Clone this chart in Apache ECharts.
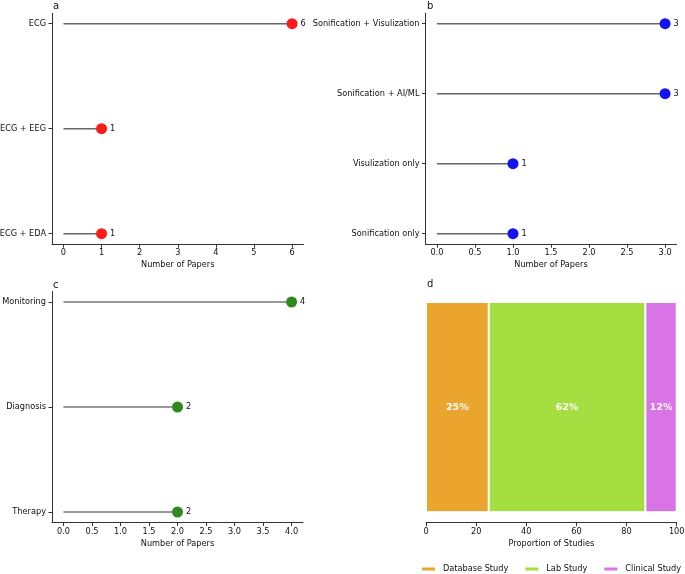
<!DOCTYPE html>
<html>
<head>
<meta charset="utf-8">
<script src="https://cdn.jsdelivr.net/npm/echarts@6/dist/echarts.min.js"></script>
<style>
  html, body { margin: 0; padding: 0; background: #fff; }
  #main { width: 685px; height: 574px; }
</style>
</head>
<body>
<div id="main"></div>
<script>
// panel a: modality
const aCats = ['ECG', 'ECG + EEG', 'ECG + EDA']
const aVals = [6, 1, 1]
const aTicks = [0, 1, 2, 3, 4, 5, 6]
// panel b: approach
const bCats = ['Sonification + Visulization', 'Sonification + AI/ML', 'Visulization only', 'Sonification only']
const bVals = [3, 3, 1, 1]
const bTicks = [0, 0.5, 1, 1.5, 2, 2.5, 3]
// panel c: application
const cCats = ['Monitoring', 'Diagnosis', 'Therapy']
const cVals = [4, 2, 2]
const cTicks = [0, 0.5, 1, 1.5, 2, 2.5, 3, 3.5, 4]
// panel d: study type
const dNames = ['Database Study', 'Lab Study', 'Clinical Study']
const dVals = [25, 62.5, 12.5]
const dLabels = ['25%', '62%', '12%']

const FONT = 'DejaVu Sans'
const FS = 8.2
const TXT = '#111'
const AX = '#333'

const chart = echarts.init(document.getElementById('main'))

function lolliAxes(idx, cats, ticks, dec) {
  const n = cats.length
  const maxT = ticks[ticks.length - 1]
  const pad = maxT * 0.05
  return {
    x: {
      type: 'value', gridIndex: idx, min: -pad, max: maxT + pad,
      name: 'Number of Papers', nameLocation: 'middle', nameGap: 17,
      nameTextStyle: { fontFamily: FONT, fontSize: FS, color: TXT },
      splitLine: { show: false },
      axisLine: { show: true, onZero: false, lineStyle: { color: AX, width: 1 } },
      axisTick: { show: true, length: 3.5, customValues: ticks, lineStyle: { color: AX } },
      axisLabel: {
        customValues: ticks, margin: 5, fontFamily: FONT, fontSize: FS, color: TXT,
        formatter: v => dec ? Number(v).toFixed(1) : String(Math.round(v))
      }
    },
    y: {
      type: 'value', gridIndex: idx, inverse: true,
      min: -(n - 1) * 0.05, max: (n - 1) * 1.05,
      splitLine: { show: false },
      axisLine: { show: true, onZero: false, lineStyle: { color: AX, width: 1 } },
      axisTick: { show: true, length: 3.5, customValues: cats.map((c, i) => i), lineStyle: { color: AX } },
      axisLabel: {
        customValues: cats.map((c, i) => i), margin: 6, fontFamily: FONT, fontSize: FS, color: TXT,
        formatter: v => cats[Math.round(v)]
      }
    }
  }
}

function stem(idx, vals, color, width) {
  return {
    type: 'custom', xAxisIndex: idx, yAxisIndex: idx, z: 2,
    data: vals.map((v, i) => [v, i]),
    renderItem: function (params, api) {
      const s = api.coord([0, api.value(1)])
      const e = api.coord([api.value(0), api.value(1)])
      return {
        type: 'line',
        shape: { x1: s[0], y1: s[1], x2: e[0], y2: e[1] },
        style: { stroke: color, lineWidth: width }
      }
    }
  }
}

function dots(idx, vals, color) {
  return {
    type: 'scatter', xAxisIndex: idx, yAxisIndex: idx, z: 3,
    symbolSize: 11,
    itemStyle: { color: color, opacity: 1 },
    data: vals.map((v, i) => [v, i]),
    label: {
      show: true, position: 'right', distance: 3,
      fontFamily: FONT, fontSize: FS, color: TXT,
      formatter: p => p.value[0]
    }
  }
}

const A = lolliAxes(0, aCats, aTicks, false)
const B = lolliAxes(1, bCats, bTicks, true)
const C = lolliAxes(2, cCats, cTicks, true)

const dColors = ['#EBA42E', '#A4DE41', '#D874E6']
const titleStyle = { fontFamily: FONT, fontSize: 10, fontWeight: 'normal', color: TXT }

chart.setOption({
  animation: false,
  textStyle: { fontFamily: FONT },
  title: [
    { text: 'a', left: 48, top: -4, textStyle: titleStyle },
    { text: 'b', left: 422, top: -4, textStyle: titleStyle },
    { text: 'c', left: 48, top: 275, textStyle: titleStyle },
    { text: 'd', left: 422, top: 274, textStyle: titleStyle }
  ],
  grid: [
    { left: 52, right: 381.5, top: 13.2, bottom: 329.8, outerBoundsMode: 'none' },
    { left: 425.5, right: 8.5, top: 13.2, bottom: 329.8, outerBoundsMode: 'none' },
    { left: 52, right: 382, top: 291.5, bottom: 51.5, outerBoundsMode: 'none' },
    { left: 426, right: 8.3, top: 291.5, bottom: 51.3, outerBoundsMode: 'none' }
  ],
  xAxis: [A.x, B.x, C.x, {
    type: 'value', gridIndex: 3, min: 0, max: 100, interval: 20,
    name: 'Proportion of Studies', nameLocation: 'middle', nameGap: 17,
    nameTextStyle: { fontFamily: FONT, fontSize: FS, color: TXT },
    splitLine: { show: false },
    axisLine: { show: true, lineStyle: { color: AX, width: 1 } },
    axisTick: { show: true, length: 3.5, lineStyle: { color: AX } },
    axisLabel: { margin: 5, fontFamily: FONT, fontSize: FS, color: TXT }
  }],
  yAxis: [A.y, B.y, C.y, {
    type: 'category', gridIndex: 3, data: ['Studies'], show: false
  }],
  legend: {
    data: dNames, left: 420, top: 565, padding: 0, width: 300,
    icon: 'rect', itemWidth: 15, itemHeight: 5, itemGap: 15,
    textStyle: { fontFamily: FONT, fontSize: FS, color: TXT, padding: [0, 0, 0, 2] }
  },
  series: [
    stem(0, aVals, '#666666', 1.5),
    dots(0, aVals, '#FF1A1A'),
    stem(1, bVals, '#666666', 1.5),
    dots(1, bVals, '#1414F0'),
    stem(2, cVals, '#999999', 1.8),
    dots(2, cVals, '#2E8A1E')
  ].concat(dNames.map((name, i) => ({
    type: 'bar', name: name, stack: 'd', xAxisIndex: 3, yAxisIndex: 3,
    barWidth: '90.9%',
    data: [dVals[i]],
    itemStyle: { color: dColors[i], borderColor: '#fff', borderWidth: 1 },
    label: {
      show: true, position: 'inside', color: '#fff', fontWeight: 'bold',
      fontFamily: FONT, fontSize: 9.5,
      formatter: () => dLabels[i]
    }
  })))
})
</script>
</body>
</html>
